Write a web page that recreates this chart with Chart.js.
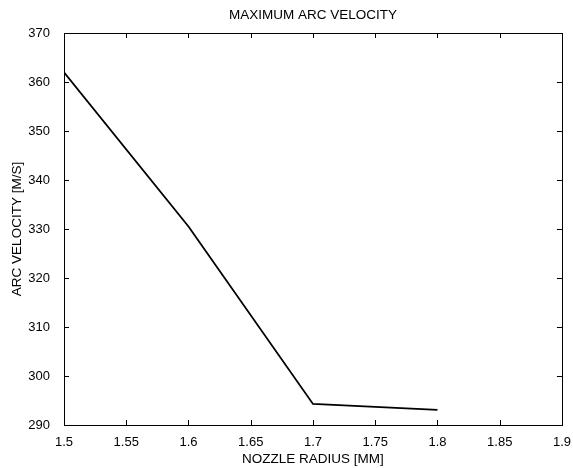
<!DOCTYPE html>
<html>
<head>
<meta charset="utf-8">
<title>Maximum arc velocity</title>
<script src="https://cdn.jsdelivr.net/npm/chart.js@4/dist/chart.umd.min.js"></script>
<style>
  html, body { margin: 0; padding: 0; background: #fff; }
  #wrap { width: 573px; height: 468px; }
</style>
</head>
<body>
<div id="wrap"><canvas id="arcChart" width="573" height="468"></canvas></div>
<script>
// nozzle radius [mm] vs. peak arc velocity [m/s]
const radius = [1.5, 1.6, 1.7, 1.8];
const velocity = [362, 330.5, 294.3, 293.1];

const xTicks = [1.5, 1.55, 1.6, 1.65, 1.7, 1.75, 1.8, 1.85, 1.9];
const yTicks = [290, 300, 310, 320, 330, 340, 350, 360, 370];

const chartTitle = 'MAXIMUM ARC VELOCITY';

const FONT = 'Arial, "Liberation Sans", sans-serif';

// matlab-style frame: box around the plot with inward ticks on every side,
// title centred over the plot area rather than the whole canvas
const boxTicks = {
  id: 'boxTicks',
  afterDraw(chart) {
    const ctx = chart.ctx;
    const a = chart.chartArea;
    const xs = chart.scales.x, ys = chart.scales.y;
    const len = 5;
    ctx.save();
    ctx.strokeStyle = '#000';
    ctx.lineWidth = 1;
    ctx.strokeRect(Math.round(a.left) + 0.5, Math.round(a.top) + 0.5,
      Math.round(a.right - a.left), Math.round(a.bottom - a.top));
    ctx.beginPath();
    xTicks.forEach(function(v) {
      const px = Math.round(xs.getPixelForValue(v)) + 0.5;
      ctx.moveTo(px, a.bottom); ctx.lineTo(px, a.bottom - len);
      ctx.moveTo(px, a.top); ctx.lineTo(px, a.top + len);
    });
    yTicks.forEach(function(v) {
      const py = Math.round(ys.getPixelForValue(v)) + 0.5;
      ctx.moveTo(a.left, py); ctx.lineTo(a.left + len, py);
      ctx.moveTo(a.right, py); ctx.lineTo(a.right - len, py);
    });
    ctx.stroke();

    ctx.fillStyle = '#000';
    ctx.font = '13.5px ' + FONT;
    ctx.textAlign = 'center';
    ctx.textBaseline = 'middle';
    ctx.fillText(chartTitle, (a.left + a.right) / 2, 15);
    ctx.restore();
  }
};

new Chart(document.getElementById('arcChart'), {
  type: 'line',
  data: {
    datasets: [{
      data: radius.map(function(r, i) { return { x: r, y: velocity[i] }; }),
      borderColor: '#000',
      borderWidth: 1.8,
      pointRadius: 0,
      tension: 0,
      fill: false
    }]
  },
  options: {
    responsive: false,
    animation: false,
    layout: { padding: { left: 0, right: 9, top: 33, bottom: 0 } },
    plugins: {
      legend: { display: false },
      tooltip: { enabled: false },
      title: { display: false }
    },
    scales: {
      x: {
        type: 'linear',
        min: 1.5,
        max: 1.9,
        afterBuildTicks: function(scale) {
          scale.ticks = xTicks.map(function(v) { return { value: v }; });
        },
        afterFit: function(scale) { scale.height = 43; },
        grid: { display: false },
        border: { display: false },
        ticks: {
          color: '#000',
          padding: 2,
          maxRotation: 0,
          font: { family: FONT, size: 13 },
          callback: function(v) { return String(+v.toFixed(2)); }
        },
        title: {
          display: true,
          text: 'NOZZLE RADIUS [MM]',
          color: '#000',
          font: { family: FONT, size: 13.5 },
          padding: { top: 0, bottom: 1 }
        }
      },
      y: {
        type: 'linear',
        min: 290,
        max: 370,
        afterBuildTicks: function(scale) {
          scale.ticks = yTicks.map(function(v) { return { value: v }; });
        },
        afterFit: function(scale) { scale.width = 64; },
        grid: { display: false },
        border: { display: false },
        ticks: {
          color: '#000',
          padding: 6,
          font: { family: FONT, size: 13 }
        },
        title: {
          display: true,
          text: 'ARC VELOCITY [M/S]',
          color: '#000',
          font: { family: FONT, size: 13.5 },
          padding: { top: 9, bottom: 0 }
        }
      }
    }
  },
  plugins: [boxTicks]
});
</script>
</body>
</html>
